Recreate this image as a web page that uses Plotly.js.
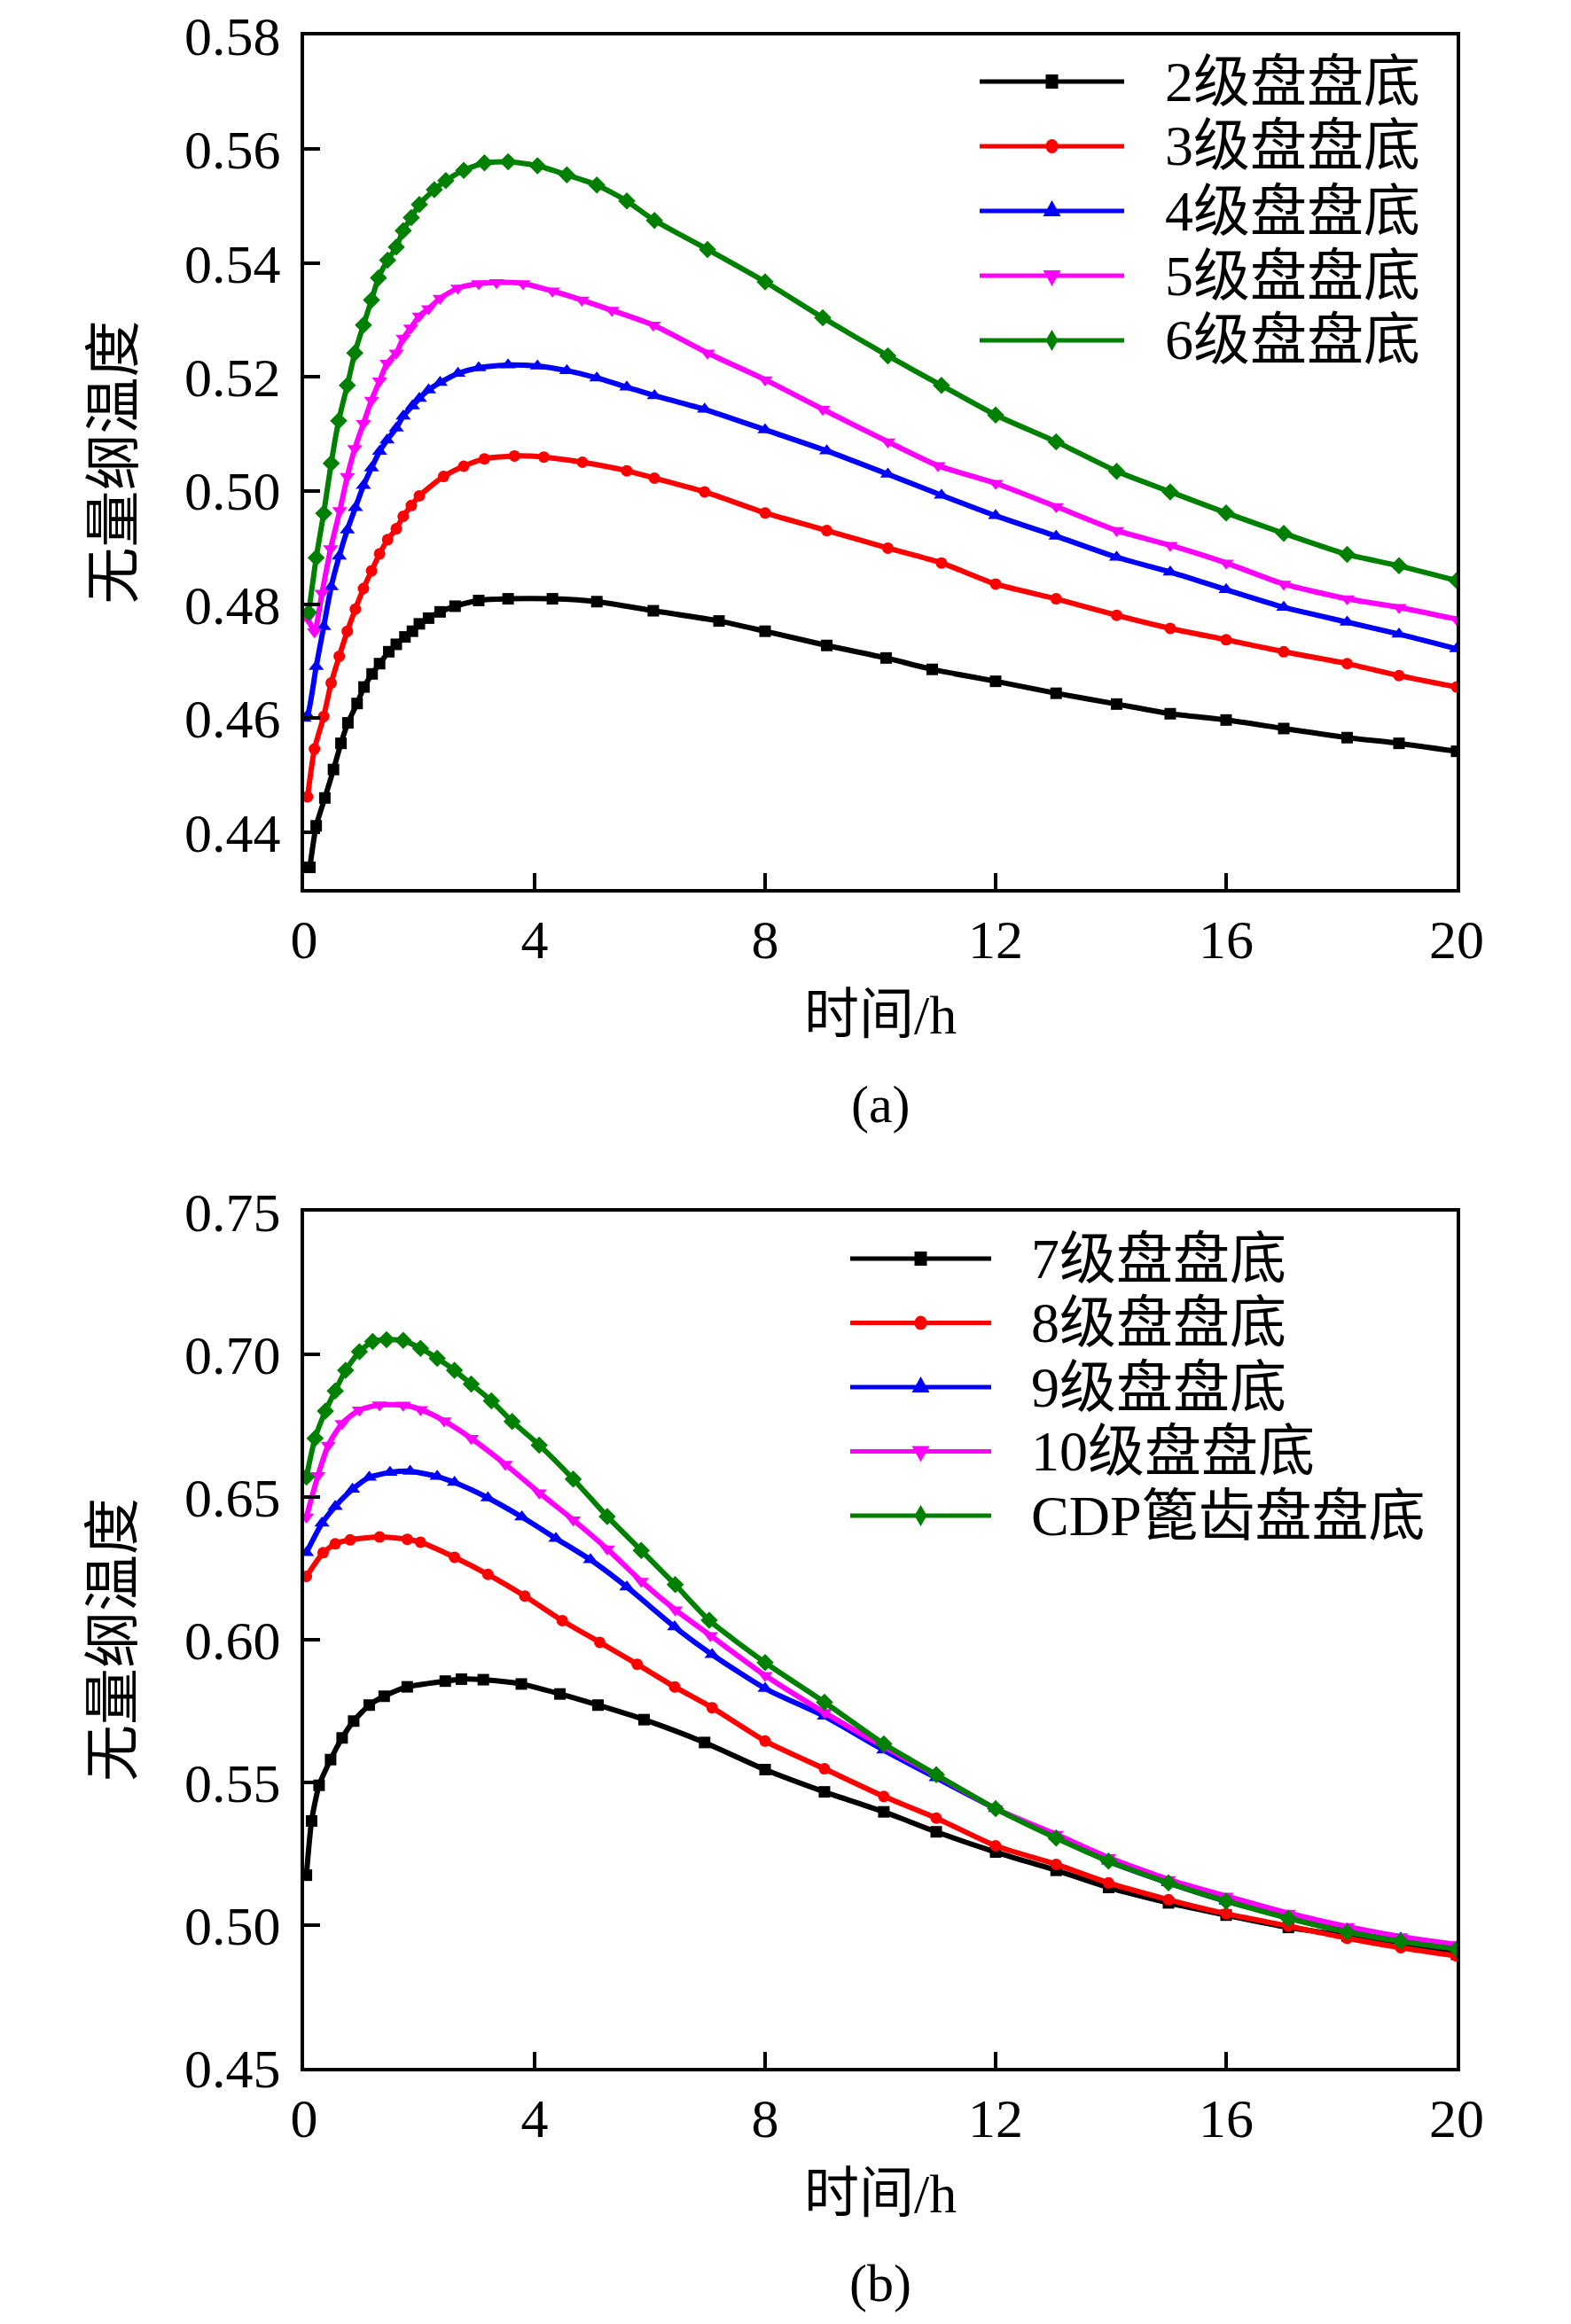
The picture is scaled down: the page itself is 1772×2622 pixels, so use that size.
<!DOCTYPE html>
<html>
<head>
<meta charset="utf-8">
<script src="https://cdn.plot.ly/plotly-3.0.1.min.js"></script>
<style>
  body { margin: 0; background: #fff; }
</style>
</head>
<body>
<div id="chart" style="width:1772px;height:2622px"></div>
<script>
// ---- (a) stage 2..6 disc bottoms: time (h) and dimensionless temperature ----
var ta_2 = [0.1, 0.21, 0.36, 0.51, 0.64, 0.76, 0.92, 1.04, 1.18, 1.31, 1.47, 1.6, 1.75, 1.88, 2.0, 2.16, 2.36, 2.62, 3.03, 3.54, 4.31, 5.08, 6.06, 7.2, 8.0, 9.07, 10.1, 10.9, 12, 13.05, 14.1, 15.03, 16, 17, 18.1, 19, 20];
var va_2 = [0.4338, 0.4411, 0.4460, 0.4510, 0.4556, 0.4592, 0.4626, 0.4655, 0.4678, 0.4696, 0.4717, 0.4730, 0.4743, 0.4753, 0.4766, 0.4776, 0.4787, 0.4797, 0.4807, 0.4810, 0.4810, 0.4805, 0.4789, 0.4771, 0.4753, 0.4728, 0.4706, 0.4686, 0.4665, 0.4644, 0.4625, 0.4608, 0.4597, 0.4582, 0.4566, 0.4556, 0.4542];

var ta_3 = [0.06, 0.18, 0.34, 0.47, 0.61, 0.75, 0.89, 1.03, 1.17, 1.31, 1.45, 1.6, 1.72, 1.86, 2.0, 2.42, 2.77, 3.13, 3.65, 4.16, 4.83, 5.6, 6.08, 6.95, 8, 9.07, 10.13, 11.06, 12, 13.05, 14.1, 15.03, 16, 17, 18.1, 19, 20];
var va_3 = [0.4462, 0.4546, 0.4603, 0.4662, 0.4709, 0.4753, 0.4792, 0.4828, 0.4859, 0.4889, 0.4914, 0.4933, 0.4955, 0.4974, 0.4991, 0.5025, 0.5043, 0.5056, 0.5061, 0.5059, 0.5050, 0.5035, 0.5022, 0.4998, 0.4961, 0.4930, 0.4899, 0.4873, 0.4836, 0.4810, 0.4781, 0.4758, 0.4738, 0.4717, 0.4696, 0.4675, 0.4655];

var ta_4 = [0, 0.06, 0.21, 0.34, 0.47, 0.61, 0.75, 0.89, 1.03, 1.17, 1.31, 1.44, 1.6, 1.72, 1.88, 2.0, 2.16, 2.36, 2.67, 3.03, 3.54, 4.05, 4.56, 5.08, 5.6, 6.08, 6.95, 8, 9.07, 10.13, 11.06, 12, 13.05, 14.1, 15.03, 16, 17, 18.1, 19, 20];
var va_4 = [0.4600, 0.4605, 0.4691, 0.4761, 0.4831, 0.4885, 0.4931, 0.4970, 0.5009, 0.5040, 0.5069, 0.5089, 0.5110, 0.5131, 0.5149, 0.5162, 0.5177, 0.5190, 0.5206, 0.5216, 0.5221, 0.5219, 0.5211, 0.5198, 0.5182, 0.5167, 0.5143, 0.5107, 0.5070, 0.5029, 0.4992, 0.4956, 0.4920, 0.4883, 0.4857, 0.4826, 0.4795, 0.4769, 0.4748, 0.4722];

var ta_5 = [0, 0.06, 0.18, 0.31, 0.46, 0.62, 0.75, 0.88, 1.03, 1.17, 1.31, 1.44, 1.6, 1.72, 1.85, 2.0, 2.16, 2.36, 2.67, 3.03, 3.34, 3.8, 4.31, 4.82, 5.34, 6.06, 7, 8, 9, 10.13, 11, 12, 13.05, 14.1, 15.03, 16, 17, 18.1, 19, 20];
var va_5 = [0.4780, 0.4776, 0.4752, 0.4820, 0.4898, 0.4965, 0.5025, 0.5074, 0.5118, 0.5159, 0.5193, 0.5224, 0.5242, 0.5268, 0.5286, 0.5307, 0.5320, 0.5338, 0.5356, 0.5364, 0.5366, 0.5364, 0.5351, 0.5335, 0.5317, 0.5291, 0.5242, 0.5195, 0.5143, 0.5086, 0.5044, 0.5013, 0.4972, 0.4930, 0.4904, 0.4873, 0.4836, 0.4810, 0.4795, 0.4774];

var ta_6 = [0.08, 0.21, 0.34, 0.47, 0.6, 0.75, 0.88, 1.03, 1.17, 1.29, 1.45, 1.6, 1.72, 1.86, 2.0, 2.26, 2.46, 2.77, 3.13, 3.54, 4.05, 4.56, 5.08, 5.6, 6.08, 7, 8, 9, 10.13, 11.06, 12, 13.05, 14.1, 15.03, 16, 17, 18.1, 19, 20];
var va_6 = [0.4786, 0.4882, 0.4960, 0.5048, 0.5123, 0.5185, 0.5242, 0.5291, 0.5335, 0.5374, 0.5405, 0.5428, 0.5457, 0.5480, 0.5503, 0.5529, 0.5545, 0.5563, 0.5576, 0.5578, 0.5571, 0.5555, 0.5537, 0.5509, 0.5475, 0.5424, 0.5367, 0.5304, 0.5237, 0.5185, 0.5133, 0.5086, 0.5034, 0.4998, 0.4961, 0.4925, 0.4888, 0.4868, 0.4842];

// ---- (b) stage 7..10 and CDP ----
var tb_7 = [0.04, 0.13, 0.26, 0.46, 0.66, 0.86, 1.13, 1.39, 1.79, 2.45, 2.73, 3.11, 3.77, 4.44, 5.1, 5.9, 6.95, 8, 9.03, 10.06, 10.97, 12, 13.05, 13.96, 15, 16, 17.08, 18.1, 19.03, 20];
var vb_7 = [0.5175, 0.5365, 0.5490, 0.5580, 0.5656, 0.5715, 0.5771, 0.5802, 0.5835, 0.5855, 0.5862, 0.5860, 0.5845, 0.5810, 0.5771, 0.5720, 0.5640, 0.5545, 0.5467, 0.5397, 0.5327, 0.5256, 0.5192, 0.5132, 0.5078, 0.5035, 0.4992, 0.4962, 0.4935, 0.4898];

var tb_8 = [0.04, 0.33, 0.54, 0.8, 1.31, 1.79, 2.02, 2.61, 3.19, 3.83, 4.48, 5.13, 5.78, 6.43, 7.08, 8, 9.03, 10.06, 10.97, 12, 13.05, 13.96, 15, 16, 17.08, 18.1, 19.03, 20];
var vb_8 = [0.6222, 0.6305, 0.6336, 0.6350, 0.6360, 0.6352, 0.6342, 0.6289, 0.6229, 0.6153, 0.6067, 0.5991, 0.5914, 0.5835, 0.5762, 0.5645, 0.5548, 0.5451, 0.5375, 0.5278, 0.5213, 0.5148, 0.5089, 0.5040, 0.4997, 0.4954, 0.4921, 0.4892];

var tb_9 = [0.04, 0.31, 0.54, 0.84, 1.13, 1.49, 1.84, 2.31, 2.61, 3.19, 3.78, 4.37, 4.97, 5.6, 6.43, 7.08, 8, 9.03, 10.06, 10.97, 12, 13.05, 13.96, 15, 16, 17.08, 18.1, 19.03, 20];
var vb_9 = [0.6305, 0.6408, 0.6467, 0.6527, 0.6569, 0.6586, 0.6590, 0.6572, 0.6551, 0.6497, 0.6430, 0.6355, 0.6280, 0.6185, 0.6045, 0.5948, 0.5829, 0.5732, 0.5613, 0.5516, 0.5408, 0.5311, 0.5224, 0.5148, 0.5084, 0.5029, 0.4986, 0.4954, 0.4921];

var tb_10 = [0.04, 0.24, 0.42, 0.66, 0.96, 1.31, 1.72, 2.02, 2.43, 2.9, 3.49, 4.08, 4.67, 5.26, 5.85, 6.44, 7.05, 8, 9.03, 10.06, 10.97, 12, 13.05, 13.96, 15, 16, 17.08, 18.1, 19.03, 20];
var vb_10 = [0.6430, 0.6575, 0.6682, 0.6758, 0.6805, 0.6823, 0.6822, 0.6807, 0.6767, 0.6706, 0.6615, 0.6515, 0.6420, 0.6318, 0.6205, 0.6105, 0.6015, 0.5875, 0.5745, 0.5625, 0.5525, 0.5408, 0.5318, 0.5237, 0.5160, 0.5102, 0.5042, 0.4995, 0.4960, 0.4932];

var tb_cdp = [0.04, 0.19, 0.37, 0.54, 0.72, 0.96, 1.19, 1.43, 1.72, 2.02, 2.31, 2.61, 2.9, 3.25, 3.61, 4.08, 4.67, 5.26, 5.85, 6.44, 7.03, 8, 9.03, 10.06, 10.97, 12, 13.05, 13.96, 15, 16, 17.08, 18.1, 19.03, 20];
var vb_cdp = [0.6570, 0.6706, 0.6801, 0.6872, 0.6944, 0.7009, 0.7045, 0.7051, 0.7049, 0.7021, 0.6986, 0.6944, 0.6896, 0.6837, 0.6765, 0.6682, 0.6563, 0.6432, 0.6313, 0.6193, 0.6068, 0.5920, 0.5781, 0.5635, 0.5527, 0.5408, 0.5305, 0.5224, 0.5148, 0.5084, 0.5024, 0.4976, 0.4943, 0.4916];

var names_a = ['2级盘盘底', '3级盘盘底', '4级盘盘底', '5级盘盘底', '6级盘盘底'];
var names_b = ['7级盘盘底', '8级盘盘底', '9级盘盘底', '10级盘盘底', 'CDP篦齿盘盘底'];

var colors  = ['#000000', '#ff0000', '#0000ff', '#ff00ff', '#008000'];
var symbols = ['square', 'circle', 'triangle-up', 'triangle-down', 'diamond'];
var msizes  = [13, 13, 15, 15, 15];

var W = 1772, H = 2622;
function px(x) { return x / W; }
function py(y) { return 1 - y / H; }

var serif = 'Liberation Serif, "Noto Sans CJK SC", serif';

var traces = [];
function addSeries(t, v, i, xa, ya) {
  traces.push({
    x: t, y: v, xaxis: xa, yaxis: ya,
    type: 'scatter', mode: 'lines+markers',
    line: { color: colors[i], width: 6, shape: 'spline', smoothing: 0.6 },
    marker: { symbol: symbols[i], size: msizes[i], color: colors[i] },
    showlegend: false
  });
}
addSeries(ta_2, va_2, 0, 'x', 'y');
addSeries(ta_3, va_3, 1, 'x', 'y');
addSeries(ta_4, va_4, 2, 'x', 'y');
addSeries(ta_5, va_5, 3, 'x', 'y');
addSeries(ta_6, va_6, 4, 'x', 'y');
addSeries(tb_7, vb_7, 0, 'x2', 'y2');
addSeries(tb_8, vb_8, 1, 'x2', 'y2');
addSeries(tb_9, vb_9, 2, 'x2', 'y2');
addSeries(tb_10, vb_10, 3, 'x2', 'y2');
addSeries(tb_cdp, vb_cdp, 4, 'x2', 'y2');

// axes boxes (pixel edges of the frames)
var L = 343, R = 1643;
var topA = 40, botA = 1003, topB = 1367, botB = 2333;

function xAxis(anchor) {
  return {
    domain: [px(L), px(R)], anchor: anchor,
    range: [0, 20], tick0: 0, dtick: 4,
    showline: true, mirror: true, linecolor: '#000', linewidth: 4,
    ticks: 'inside', ticklen: 18, tickwidth: 4, tickcolor: '#000',
    showgrid: false, zeroline: false,
    tickfont: { family: serif, size: 62, color: '#000' },
    ticklabelstandoff: 0
  };
}
function yAxis(anchor, lo, hi, step, dom) {
  return {
    domain: dom, anchor: anchor,
    range: [lo, hi], tick0: lo, dtick: step, tickformat: '.2f',
    showline: true, mirror: true, linecolor: '#000', linewidth: 4,
    ticks: 'inside', ticklen: 18, tickwidth: 4, tickcolor: '#000',
    showgrid: false, zeroline: false,
    tickfont: { family: serif, size: 62, color: '#000' },
    ticklabelstandoff: 10
  };
}

var ya = yAxis('x', 0.43, 0.58, 0.02, [py(botA), py(topA)]);
ya.tick0 = 0.44;
var yb = yAxis('x2', 0.45, 0.75, 0.05, [py(botB), py(topB)]);

var annotations = [];
var shapes = [];

function txt(s, x, y, size, angle, xanchor) {
  annotations.push({
    text: s, xref: 'paper', yref: 'paper', x: px(x), y: py(y),
    xanchor: xanchor || 'center', yanchor: 'middle', showarrow: false,
    textangle: angle || 0,
    font: { family: serif, size: size, color: '#000' }
  });
}

// axis titles and panel captions
txt('无量纲温度', 128, (topA + botA) / 2, 64, -90);
txt('无量纲温度', 128, (topB + botB) / 2, 64, -90);
txt('时间/h', (L + R) / 2, botA + 142, 62);
txt('时间/h', (L + R) / 2, botB + 142, 62);
txt('(a)', (L + R) / 2, botA + 243, 60);
txt('(b)', (L + R) / 2, botB + 243, 60);

// hand drawn legend (long sample lines like the original)
function glyph(i, cx, cy) {
  var c = colors[i];
  var base = {
    xref: 'paper', yref: 'paper', xsizemode: 'pixel', ysizemode: 'pixel',
    xanchor: px(cx), yanchor: py(cy), fillcolor: c, line: { width: 0 }
  };
  var s;
  if (i === 0) s = Object.assign({ type: 'rect', x0: -7, x1: 7, y0: -8, y1: 8 }, base);
  else if (i === 1) s = Object.assign({ type: 'circle', x0: -7, x1: 7, y0: -8, y1: 8 }, base);
  else if (i === 2) s = Object.assign({ type: 'path', path: 'M-10,-6 L10,-6 L0,12 Z' }, base);
  else if (i === 3) s = Object.assign({ type: 'path', path: 'M-10,6 L10,6 L0,-12 Z' }, base);
  else s = Object.assign({ type: 'path', path: 'M0,-12 L7,0 L0,12 L-7,0 Z' }, base);
  shapes.push(s);
}
function legend(names, x0, x1, xt, y0, dy) {
  for (var i = 0; i < names.length; i++) {
    var y = y0 + i * dy;
    shapes.push({
      type: 'line', xref: 'paper', yref: 'paper',
      x0: px(x0), x1: px(x1), y0: py(y), y1: py(y),
      line: { color: colors[i], width: 5 }
    });
    glyph(i, (x0 + x1) / 2, y);
    txt(names[i], xt, y, 64, 0, 'left');
  }
}
legend(names_a, 1105, 1268, 1312, 92, 73);
legend(names_b, 959, 1118, 1161, 1420, 72.5);

var layout = {
  width: W, height: H,
  margin: { l: 0, r: 0, t: 0, b: 0 },
  paper_bgcolor: '#fff', plot_bgcolor: '#fff',
  showlegend: false,
  xaxis: xAxis('y'), yaxis: ya,
  xaxis2: xAxis('y2'), yaxis2: yb,
  annotations: annotations,
  shapes: shapes
};

Plotly.newPlot('chart', traces, layout, { displayModeBar: false, staticPlot: true });
</script>
</body>
</html>
